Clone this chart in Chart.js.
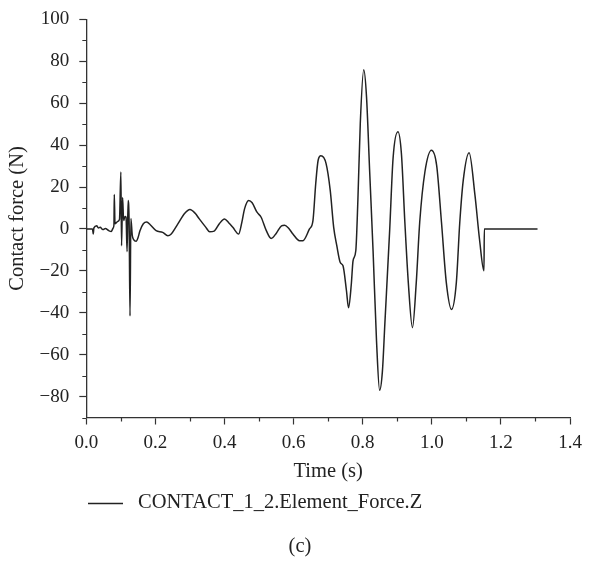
<!DOCTYPE html>
<html>
<head>
<meta charset="utf-8">
<script src="https://cdn.jsdelivr.net/npm/chart.js@4.4.0/dist/chart.umd.min.js"></script>
<style>
  html, body { margin: 0; padding: 0; background: #fff; }
</style>
</head>
<body>
<canvas id="forceChart" width="593" height="568"></canvas>
<script>
// Time (s) and contact force (N)
const timeValues = [
  0, 0.018, 0.020, 0.022, 0.030, 0.035, 0.040, 0.048, 0.055, 0.065,
  0.072, 0.078, 0.080, 0.081, 0.083, 0.090, 0.096, 0.100, 0.102, 0.105,
  0.108, 0.112, 0.115, 0.118, 0.121, 0.124, 0.1265, 0.129, 0.133, 0.137,
  0.144, 0.150, 0.155, 0.165, 0.175, 0.185, 0.202, 0.221, 0.236, 0.245,
  0.265, 0.285, 0.300, 0.315, 0.327, 0.345, 0.357, 0.370, 0.385, 0.400,
  0.412, 0.424, 0.441, 0.450, 0.458, 0.470, 0.480, 0.494, 0.506, 0.521,
  0.535, 0.550, 0.565, 0.574, 0.585, 0.598, 0.617, 0.627, 0.646, 0.656,
  0.664, 0.671, 0.679, 0.694, 0.706, 0.716, 0.725, 0.735, 0.743, 0.753,
  0.759, 0.767, 0.772, 0.780, 0.786, 0.793, 0.803, 0.811, 0.820, 0.830,
  0.840, 0.849, 0.857, 0.864, 0.878, 0.888, 0.902, 0.912, 0.922, 0.932,
  0.944, 0.955, 0.965, 0.980, 0.999, 1.014, 1.028, 1.042, 1.057, 1.071,
  1.081, 1.091, 1.108, 1.125, 1.138, 1.151, 1.152, 1.306
];
const forceValues = [
  0, 0, -2.4, 0.5, 1.5, 0.5, 0.8, -0.3, 0.2, -0.8,
  -1.2, 0.5, 2, 16.5, 2.5, 3.5, 4.5, 27.2, -8, 15,
  4, 6, 5.6, -10.8, 13.6, 2, -41.5, 5, -3, -5.1,
  -5.9, -4, -1, 2.5, 3.3, 2, -0.8, -1.6, -3.2, -2.5,
  2.4, 7.5, 9.3, 7.5, 4.8, 1, -1.3, -1, 2.5, 4.8,
  3, 0.8, -2.4, 3, 9.6, 13.6, 12.5, 8, 5.6, -0.8,
  -4.5, -2, 1.5, 1.8, 0.5, -2.4, -5.6, -5.6, 0, 4,
  21.6, 32.8, 34.9, 31.2, 18.4, 0.8, -8, -16, -17.6, -29.5,
  -37.6, -26.4, -15.2, -10.4, 13.6, 50.4, 76, 63.2, 28, -10.4,
  -53.5, -77, -68, -45.6, -0.8, 34, 46.4, 36, 3.2, -25.6,
  -47.1, -25.6, 3.2, 27.2, 37.6, 30.4, 3.2, -25.6, -38.4, -25.6,
  3.2, 23.2, 36.4, 16, -4.8, -20, 0, 0
];
const seriesName = 'CONTACT_1_2.Element_Force.Z';

const xMajorTicks = [0, 0.2, 0.4, 0.6, 0.8, 1.0, 1.2, 1.4];
const xMinorTicks = [0.1, 0.3, 0.5, 0.7, 0.9, 1.1, 1.3];
const yMinorTicks = [-90, -70, -50, -30, -10, 10, 30, 50, 70, 90];

const axisColor = '#333';
const textColor = '#222';
const serif = "'Liberation Serif', 'DejaVu Serif', serif";

// short minor ticks, and the legend / caption underneath
const extras = {
  id: 'extras',
  afterDraw(chart) {
    const { ctx, scales: { x, y }, chartArea } = chart;
    ctx.save();
    ctx.strokeStyle = axisColor;
    ctx.lineWidth = 1.2;
    ctx.beginPath();
    xMinorTicks.forEach(v => {
      const px = Math.round(x.getPixelForValue(v)) + 0.5;
      ctx.moveTo(px, chartArea.bottom);
      ctx.lineTo(px, chartArea.bottom + 4);
    });
    yMinorTicks.forEach(v => {
      const py = Math.round(y.getPixelForValue(v)) + 0.5;
      ctx.moveTo(chartArea.left, py);
      ctx.lineTo(chartArea.left - 4, py);
    });
    ctx.stroke();

    // legend
    ctx.strokeStyle = '#222';
    ctx.lineWidth = 1.4;
    ctx.beginPath();
    ctx.moveTo(88, 503.5);
    ctx.lineTo(123, 503.5);
    ctx.stroke();
    ctx.fillStyle = textColor;
    ctx.font = '20.5px ' + serif;
    ctx.textBaseline = 'middle';
    ctx.textAlign = 'left';
    ctx.fillText(seriesName, 138, 503);
    ctx.textAlign = 'center';
    ctx.fillText('(c)', 300, 547);
    ctx.restore();
  }
};

const ctx = document.getElementById('forceChart').getContext('2d');
const forceChart = new Chart(ctx, {
  type: 'line',
  data: {
    datasets: [{
      label: seriesName,
      data: timeValues.map((t, i) => ({ x: t, y: forceValues[i] })),
      borderColor: '#222',
      borderWidth: 1.5,
      pointRadius: 0,
      cubicInterpolationMode: 'monotone',
      fill: false
    }]
  },
  options: {
    responsive: false,
    animation: false,
    layout: { padding: { left: 1, right: 23, top: 18, bottom: 86 } },
    plugins: {
      legend: { display: false },
      tooltip: { enabled: false }
    },
    scales: {
      x: {
        type: 'linear',
        min: 0,
        max: 1.4,
        afterBuildTicks: scale => { scale.ticks = xMajorTicks.map(v => ({ value: v })); },
        grid: { drawOnChartArea: false, tickLength: 7, tickColor: axisColor, tickWidth: 1.2 },
        border: { color: axisColor, width: 1.3 },
        ticks: {
          padding: 9,
          color: textColor,
          font: { family: serif, size: 19, lineHeight: 1 },
          maxRotation: 0,
          callback: v => v.toFixed(1)
        },
        title: {
          display: true,
          text: 'Time (s)',
          color: textColor,
          font: { family: serif, size: 20.5, lineHeight: 1 },
          padding: { top: 0, bottom: 0 }
        }
      },
      y: {
        min: -90,
        max: 100,
        grid: { drawOnChartArea: false, tickLength: 7, tickColor: axisColor, tickWidth: 1.2 },
        border: { color: axisColor, width: 1.3 },
        ticks: {
          stepSize: 20,
          includeBounds: false,
          padding: 10,
          color: textColor,
          font: { family: serif, size: 19, lineHeight: 1 },
          callback: v => String(v).replace('-', '\u2212')
        },
        title: {
          display: true,
          text: 'Contact force (N)',
          color: textColor,
          font: { family: serif, size: 20.5 },
          padding: { top: 4, bottom: 0 }
        }
      }
    }
  },
  plugins: [extras]
});
</script>
</body>
</html>
